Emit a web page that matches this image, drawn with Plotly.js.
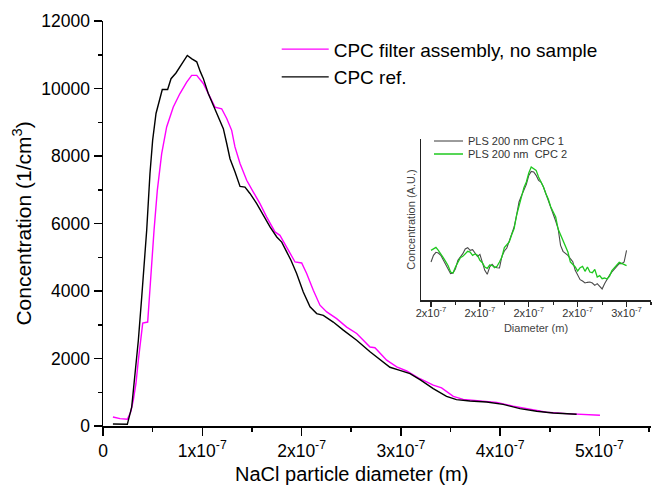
<!DOCTYPE html>
<html><head><meta charset="utf-8">
<script src="https://cdn.plot.ly/plotly-3.0.1.min.js"></script>
<style>html,body{margin:0;padding:0;background:#fff;}#chart{width:654px;height:489px;}</style>
</head><body><div id="chart"></div>
<script>
// Main chart: NaCl particle diameter (nm) vs concentration (1/cm3)
const filterDiam = [10,17.1,24.5,27.9,30.5,33.2,35.6,38,40,45,46.6,49,51.4,54.7,59.1,64.1,70.8,77.5,84.3,89.3,94.4,101,107.8,112.8,119.5,124.6,129.6,132.9,138,144.7,151.4,158.1,164.9,173.2,178.2,185,189,193.4,200.1,205.1,211.8,218.5,225.3,235.3,245.4,255.5,268.9,273.9,285.7,295.8,305.8,319.2,332.6,341,352.8,362.8,379.7,396.5,413.2,430,446.7,466.9,487,500.5];
const filterConc = [267,219,198,415,760,1260,1950,2640,3050,3080,3820,4810,5800,6980,8070,8860,9450,9850,10190,10390,10390,10150,9750,9450,9400,9110,8760,8270,7780,7280,6930,6590,6190,5750,5650,5300,5050,4860,4830,4520,4020,3580,3380,3180,2930,2740,2340,2320,1950,1750,1630,1400,1210,1130,880,790,740,700,590,495,406,367,347,317];
const refDiam = [10,24.5,28.9,32.2,35.6,39,41.6,44,47.3,50,53.4,57.4,59.7,65.1,68.5,73.5,79.2,84.9,89.5,94.4,98,101,106,112.8,117.8,121.2,124.6,127.9,132.9,138,143,148,154.8,161.4,168.2,175,180,185,189.3,195,201.7,208.5,215.2,221.9,231.9,242,255.5,268.9,282.3,289,299,309.2,320,332.6,346,356,369.6,386.4,403,420,436.8,453.5,477];
const refConc = [60,50,560,1450,2540,3820,4810,5800,7480,8470,9260,9750,9970,9970,10290,10460,10740,10980,10880,10790,10500,10300,9850,9400,9060,8810,8370,7920,7530,7100,7080,6890,6590,6240,5900,5600,5450,5160,4910,4520,3970,3530,3330,3280,3080,2840,2540,2200,1900,1740,1650,1550,1360,1110,880,780,740,710,640,516,436,385,347];
const seriesNames = ['CPC filter assembly, no sample', 'CPC ref.'];
const diamTickVals = [0,100,200,300,400,500];
const diamTickText = ['0','1x10<sup>-7</sup>','2x10<sup>-7</sup>','3x10<sup>-7</sup>','4x10<sup>-7</sup>','5x10<sup>-7</sup>'];
const diamMinorVals = [50,150,250,350,450,550];
const concTickVals = [0,2000,4000,6000,8000,10000,12000];
const concTickText = ['0','2000','4000','6000','8000','10000','12000'];
const concMinorVals = [1000,3000,5000,7000,9000,11000];

// Inset: PLS 200 nm, diameter (nm) vs concentration (A.U.)
const insetDiam = [160,161,162,163,164,165,166,167,168,169,170,171,172,173,174,175,176,177,178,179,180,181,182,183,184,185,186,187,188,189,190,191,192,193,194,195,196,197,198,199,200,201,202,203,204,205,206,207,208,209,210,211,212,213,214,215,216,217,218,219,220,221,222,223,224,225,226,227,228,229,230,231,232,233,234,235,236,237,238,239,240];
const insetCpc1 = [23,27,28.8,28.4,27,24.4,22,19,16,16.4,19,24,26,28,30.8,31.6,30,30.4,28.4,26.4,27.6,23,18,15.6,20,21.6,20,19.6,19.4,26.4,29.6,31.4,36,40.4,44,51,59,62.8,66.4,69.6,75,77.4,77,75,72,71,68,64,59.6,56.4,52.4,47.6,43,33,29.4,28.4,27,25,23.2,18,15.6,12.4,11.6,10.4,10.8,11,10.4,9,10,8.6,6.8,10,12.8,15,17,19,20.4,22,22,23,30];
const insetCpc2 = [30,31,31.8,30,28,25.6,23.2,20.8,17,16.4,20,22.4,25.6,26.4,28,29.4,29,27,27.8,27,24,22.6,20,19.2,21.2,21,19.6,20.4,23,26,31.6,33.6,35,39.4,43,51,57,63,67.6,71,76.4,80,79,78,74,71.2,68,64,60.6,56,52.4,50,42.8,39.2,35.6,32,29,23,21.6,20,17.6,19.6,20.4,17.4,20,17,16.6,18.6,14,14.8,13,13.4,12.8,14.4,17.8,19.4,21.6,22.8,22.2,21.4,20.8];
const insetNames = ['PLS 200 nm CPC 1', 'PLS 200 nm&nbsp; CPC 2'];
const insetColors = ['#4a4a4a', '#1ec81e'];
const insetTickVals = [160,180,200,220,240];
const insetTickText = ['2x10<sup>-7</sup>','2x10<sup>-7</sup>','2x10<sup>-7</sup>','2x10<sup>-7</sup>','3x10<sup>-7</sup>'];
const insetMinorVals = [170,190,210,230,250];

const FONT = 'Arial, "Liberation Sans", sans-serif';

const traces = [
  {x: filterDiam, y: filterConc, name: seriesNames[0], type: 'scatter', mode: 'lines',
   line: {color: '#ff00ff', width: 1.4}, xaxis: 'x', yaxis: 'y'},
  {x: refDiam, y: refConc, name: seriesNames[1], type: 'scatter', mode: 'lines',
   line: {color: '#000000', width: 1.4}, xaxis: 'x', yaxis: 'y'},
  {x: insetDiam, y: insetCpc1, name: insetNames[0], type: 'scatter', mode: 'lines', showlegend: false,
   line: {color: insetColors[0], width: 1.1}, xaxis: 'x2', yaxis: 'y2'},
  {x: insetDiam, y: insetCpc2, name: insetNames[1], type: 'scatter', mode: 'lines', showlegend: false,
   line: {color: insetColors[1], width: 1.3}, xaxis: 'x2', yaxis: 'y2'}
];

// inset legend (compact, as in the original)
const insetLegendRows = [0.7037, 0.6716];
const shapes = insetLegendRows.map((yy, i) => ({
  type: 'line', xref: 'paper', yref: 'paper', x0: 0.604, x1: 0.657, y0: yy, y1: yy,
  line: {color: insetColors[i], width: i === 0 ? 1.1 : 1.5}
}));
const insetLegendText = insetLegendRows.map((yy, i) => ({
  text: insetNames[i], xref: 'paper', yref: 'paper', x: 0.6624, y: yy,
  xanchor: 'left', yanchor: 'middle', showarrow: false,
  font: {family: FONT, size: 11, color: '#333'}
}));

const layout = {
  width: 654, height: 489,
  margin: {l: 103, r: 3, t: 21, b: 63},
  paper_bgcolor: '#ffffff', plot_bgcolor: 'rgba(0,0,0,0)',
  font: {family: FONT, color: '#000'},
  showlegend: true,
  xaxis: {
    domain: [0, 1], range: [0, 551.9], anchor: 'y',
    tickmode: 'array', tickvals: diamTickVals, ticktext: diamTickText,
    ticks: 'outside', ticklen: 8, tickwidth: 1.5, tickcolor: '#000',
    showline: true, linewidth: 1.5, linecolor: '#000',
    showgrid: false, zeroline: false,
    tickfont: {family: FONT, size: 17.5, color: '#000'},
    minor: {tickmode: 'array', tickvals: diamMinorVals, ticks: 'outside', ticklen: 4, tickwidth: 1.5, tickcolor: '#000', showgrid: false}
  },
  yaxis: {
    domain: [0, 1], range: [0, 12000], anchor: 'x',
    tickmode: 'array', tickvals: concTickVals, ticktext: concTickText,
    ticks: 'outside', ticklen: 8, tickwidth: 1.5, tickcolor: '#000',
    showline: true, linewidth: 1.5, linecolor: '#000',
    showgrid: false, zeroline: false,
    tickfont: {family: FONT, size: 17.5, color: '#000'},
    minor: {tickmode: 'array', tickvals: concMinorVals, ticks: 'outside', ticklen: 4, tickwidth: 1.5, tickcolor: '#000', showgrid: false},
    title: {text: 'Concentration (1/cm<sup>3</sup>)', font: {family: FONT, size: 21, color: '#000'}, standoff: 4}
  },
  xaxis2: {
    domain: [0.5803, 1], range: [155.9, 250], anchor: 'y2',
    tickmode: 'array', tickvals: insetTickVals, ticktext: insetTickText,
    ticks: 'outside', ticklen: 5, tickwidth: 1.2, tickcolor: '#222',
    showline: true, linewidth: 1.2, linecolor: '#222',
    showgrid: false, zeroline: false, ticklabelstandoff: -3,
    tickfont: {family: FONT, size: 11, color: '#333'},
    minor: {tickmode: 'array', tickvals: insetMinorVals, ticks: 'outside', ticklen: 3, tickwidth: 1.2, tickcolor: '#222', showgrid: false},
    title: {text: 'Diameter (m)', font: {family: FONT, size: 11, color: '#444'}, standoff: 6}
  },
  yaxis2: {
    domain: [0.3103, 0.7094], range: [0, 97], anchor: 'x2',
    showticklabels: false, ticks: '',
    showline: true, linewidth: 1.2, linecolor: '#222',
    showgrid: false, zeroline: false,
    title: {text: 'Concentration (A.U.)', font: {family: FONT, size: 11, color: '#444'}, standoff: 2}
  },
  legend: {
    x: 0.317, y: 0.977, xanchor: 'left', yanchor: 'top',
    bgcolor: 'rgba(0,0,0,0)', borderwidth: 0,
    font: {family: FONT, size: 19, color: '#000'},
    itemwidth: 47, tracegroupgap: 0
  },
  shapes: shapes,
  annotations: [
    {text: 'NaCl particle diameter (m)', xref: 'x', x: 250, yref: 'paper', y: -0.1185,
     xanchor: 'center', yanchor: 'middle', showarrow: false,
     font: {family: FONT, size: 20, color: '#000'}}
  ].concat(insetLegendText)
};

Plotly.newPlot('chart', traces, layout, {displayModeBar: false, staticPlot: true});
</script>
</body></html>
